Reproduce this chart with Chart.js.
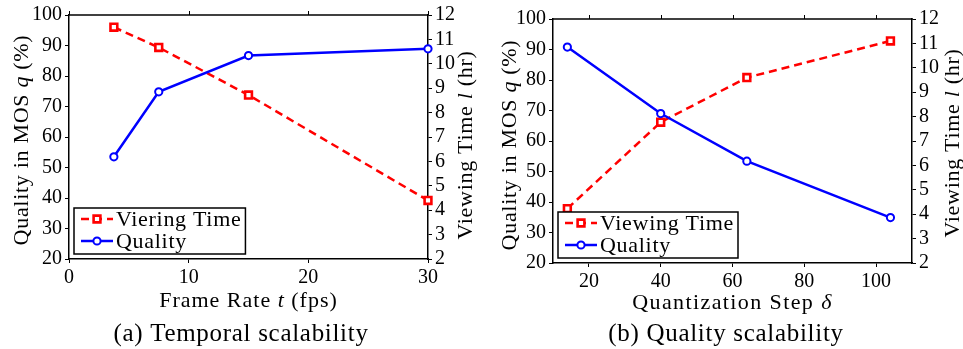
<!DOCTYPE html>
<html><head><meta charset="utf-8">
<script src="https://cdn.jsdelivr.net/npm/chart.js@4.4.1/dist/chart.umd.min.js"></script>
<style>
html,body{margin:0;padding:0;background:#fff;}
body{width:963px;height:349px;position:relative;overflow:hidden;}
canvas{position:absolute;top:0;}
#ca{left:0;} #cb{left:483px;}
</style></head><body>
<canvas id="ca" width="481" height="349"></canvas>
<canvas id="cb" width="480" height="349"></canvas>
<script>
// ---- data ----
const frameRates = [3.75, 7.5, 15, 30];
const qualityA   = [53.5, 74.8, 86.7, 88.9];
const viewingA   = [11.5, 10.67, 8.72, 4.4];

const quantSteps = [14, 40, 64, 104];
const qualityB   = [90.8, 69.0, 53.4, 34.9];
const viewingB   = [4.23, 7.77, 9.6, 11.1];

const qualityTicks = [20, 30, 40, 50, 60, 70, 80, 90, 100];
const hourTicks    = [2, 3, 4, 5, 6, 7, 8, 9, 10, 11, 12];
const xTicksA = [0, 10, 20, 30];
const xTicksB = [20, 40, 60, 80, 100];

const FONT = '"Liberation Serif", "Times New Roman", serif';

function drawRich(ctx, segs, x, y, rot, size, spacing, baseline) {
  ctx.save();
  ctx.translate(x, y);
  ctx.rotate(rot);
  ctx.fillStyle = '#000';
  ctx.textAlign = 'left';
  ctx.textBaseline = baseline || 'middle';
  try { ctx.letterSpacing = spacing + 'px'; } catch (e) {}
  let total = 0;
  const ws = segs.map(s => {
    ctx.font = (s.i ? 'italic ' : '') + size + 'px ' + FONT;
    const w = ctx.measureText(s.t).width;
    total += w;
    return w;
  });
  let cx = -total / 2;
  segs.forEach((s, k) => {
    ctx.font = (s.i ? 'italic ' : '') + size + 'px ' + FONT;
    ctx.fillText(s.t, cx, 0);
    cx += ws[k];
  });
  ctx.restore();
}

function drawMarker(ctx, ds, x, y) {
  ctx.save();
  ctx.lineWidth = ds.pointBorderWidth;
  ctx.strokeStyle = ds.borderColor;
  ctx.fillStyle = ds.pointBackgroundColor;
  ctx.setLineDash([]);
  ctx.beginPath();
  if (ds.pointStyle === 'rect') {
    const s = Math.SQRT1_2 * ds.pointRadius;
    ctx.rect(x - s, y - s, 2 * s, 2 * s);
  } else {
    ctx.arc(x, y, ds.pointRadius, 0, Math.PI * 2);
  }
  ctx.fill();
  ctx.stroke();
  ctx.restore();
}

const decor = {
  id: 'decor',
  afterDraw(chart, args, o) {
    const {ctx, chartArea: a, scales} = chart;
    ctx.save();
    // top frame and top ticks
    ctx.strokeStyle = '#000';
    ctx.lineWidth = 1.5;
    ctx.beginPath(); ctx.moveTo(a.left - 0.75, a.top); ctx.lineTo(a.right + 0.75, a.top); ctx.stroke();
    ctx.lineWidth = 1;
    scales.x.ticks.forEach(t => {
      const px = Math.round(scales.x.getPixelForValue(t.value)) + 0.5;
      ctx.beginPath(); ctx.moveTo(px, a.top); ctx.lineTo(px, a.top - 4); ctx.stroke();
    });
    ctx.restore();

    // axis titles
    drawRich(ctx, o.xTitle, (a.left + a.right) / 2, o.xTitleY, 0, 22, o.xSpacing, 'alphabetic');
    drawRich(ctx, o.yTitle, o.yTitleX, o.yTitleY, -Math.PI / 2, 22, 0.7);
    drawRich(ctx, o.y1Title, o.y1TitleX, o.y1TitleY, -Math.PI / 2, 22, 0.7);
    // caption
    drawRich(ctx, o.caption, o.capX, o.capY, 0, 25, 0.7, 'alphabetic');

    // legend
    ctx.save();
    ctx.font = '22px ' + FONT;
    try { ctx.letterSpacing = '0.7px'; } catch (e) {}
    const dsets = chart.data.datasets;
    let tw = 0;
    dsets.forEach(d => { tw = Math.max(tw, ctx.measureText(d.label).width); });
    const bx = a.left + 5, bh = 46, by = a.bottom - 5 - bh;
    const bw = 42 + tw + 4;
    ctx.fillStyle = '#fff';
    ctx.fillRect(bx, by, bw, bh);
    ctx.lineWidth = 1.5;
    ctx.strokeStyle = '#000';
    ctx.strokeRect(bx, by, bw, bh);
    dsets.forEach((d, i) => {
      const cy = by + 11 + i * 22;
      ctx.save();
      ctx.strokeStyle = d.borderColor;
      ctx.lineWidth = d.borderWidth;
      ctx.setLineDash(d.borderDash || []);
      ctx.beginPath(); ctx.moveTo(bx + 7, cy); ctx.lineTo(bx + 39, cy); ctx.stroke();
      ctx.restore();
      drawMarker(ctx, d, bx + 23, cy);
      ctx.fillStyle = '#000';
      ctx.textAlign = 'left';
      ctx.textBaseline = 'middle';
      ctx.fillText(d.label, bx + 42, cy + 1);
    });
    ctx.restore();
  }
};

function makeChart(id, cfg) {
  const xs = cfg.xs;
  const tickFont = {family: FONT, size: 20};
  const grid = {drawOnChartArea: false, drawTicks: true, tickLength: 4, color: '#000', lineWidth: 1};
  const border = {display: true, color: '#000', width: 1.5};
  return new Chart(document.getElementById(id), {
    type: 'line',
    data: {
      datasets: [
        {
          label: cfg.viewLabel,
          data: xs.map((x, i) => ({x: x, y: cfg.view[i]})),
          yAxisID: 'y1',
          borderColor: '#ff0000',
          borderWidth: 2.5,
          borderDash: [8, 5],
          pointStyle: 'rect',
          pointRadius: 4.8,
          pointBorderWidth: 2.6,
          pointBackgroundColor: '#ffffff',
          pointBorderColor: '#ff0000',
          clip: false,
          order: 1
        },
        {
          label: 'Quality',
          data: xs.map((x, i) => ({x: x, y: cfg.qual[i]})),
          yAxisID: 'y',
          borderColor: '#0000ff',
          borderWidth: 2.5,
          pointStyle: 'circle',
          pointRadius: 3.6,
          pointBorderWidth: 2,
          pointBackgroundColor: '#ffffff',
          pointBorderColor: '#0000ff',
          clip: false,
          order: 0
        }
      ]
    },
    options: {
      responsive: false,
      animation: false,
      devicePixelRatio: 1,
      layout: {padding: {top: cfg.top, left: 0, right: 0, bottom: 0}},
      plugins: {
        legend: {display: false},
        tooltip: {enabled: false},
        decor: cfg.decor
      },
      scales: {
        x: {
          type: 'linear', position: 'bottom',
          min: cfg.xmin, max: cfg.xmax,
          grid: grid, border: border,
          ticks: {font: tickFont, color: '#000', padding: 3, maxRotation: 0, autoSkip: false},
          afterBuildTicks: s => { s.ticks = cfg.xTicks.map(v => ({value: v})); },
          afterFit: s => { s.height = cfg.xh; }
        },
        y: {
          type: 'linear', position: 'left',
          min: 20, max: 100,
          grid: grid, border: border,
          ticks: {font: tickFont, color: '#000', padding: 3, autoSkip: false},
          afterBuildTicks: s => { s.ticks = qualityTicks.map(v => ({value: v})); },
          afterFit: s => { s.width = cfg.yw; }
        },
        y1: {
          type: 'linear', position: 'right',
          min: 2, max: 12,
          grid: grid, border: border,
          ticks: {font: tickFont, color: '#000', padding: 3, autoSkip: false},
          afterBuildTicks: s => { s.ticks = hourTicks.map(v => ({value: v})); },
          afterFit: s => { s.width = cfg.y1w; }
        }
      }
    },
    plugins: [decor]
  });
}

makeChart('ca', {
  xs: frameRates, qual: qualityA, view: viewingA, viewLabel: 'Viering Time',
  xmin: 0, xmax: 30, xTicks: xTicksA,
  top: 15, xh: 349 - 259, yw: 69, y1w: 481 - 428,
  decor: {
    xTitle: [{t: 'Frame Rate '}, {t: 't', i: true}, {t: ' (fps)'}], xTitleY: 307, xSpacing: 1.0,
    yTitle: [{t: 'Quality in MOS '}, {t: 'q', i: true}, {t: ' (%)'}], yTitleX: 22, yTitleY: 140,
    y1Title: [{t: 'Viewing Time '}, {t: 'l', i: true}, {t: ' (hr)'}], y1TitleX: 466, y1TitleY: 145,
    caption: [{t: '(a) Temporal scalability'}], capX: 241, capY: 341
  }
});

makeChart('cb', {
  xs: quantSteps, qual: qualityB, view: viewingB, viewLabel: 'Viewing Time',
  xmin: 10, xmax: 110, xTicks: xTicksB,
  top: 19, xh: 349 - 263, yw: 553 - 483, y1w: 963 - 912,
  decor: {
    xTitle: [{t: 'Quantization Step '}, {t: 'δ', i: true}], xTitleY: 309, xSpacing: 1.4,
    yTitle: [{t: 'Quality in MOS '}, {t: 'q', i: true}, {t: ' (%)'}], yTitleX: 27, yTitleY: 145,
    y1Title: [{t: 'Viewing Time '}, {t: 'l', i: true}, {t: ' (hr)'}], y1TitleX: 470, y1TitleY: 143,
    caption: [{t: '(b) Quality scalability'}], capX: 726 - 483, capY: 341
  }
});
</script>
</body></html>
